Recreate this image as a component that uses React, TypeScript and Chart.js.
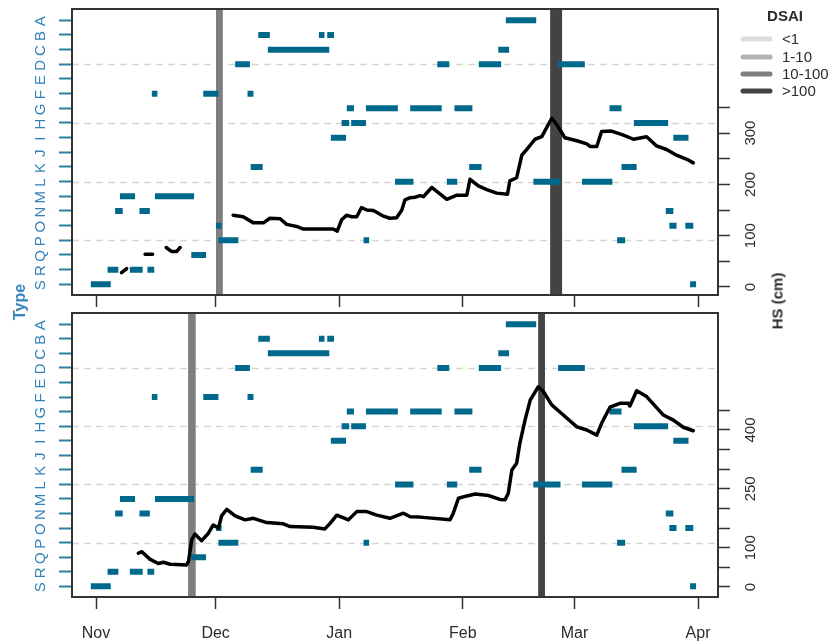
import React, { useEffect, useRef } from 'react';
import { Chart, registerables } from 'chart.js';

Chart.register(...registerables);

// ---------- data ----------
const typeLabels = ['A', 'B', 'C', 'D', 'E', 'F', 'G', 'H', 'I', 'J', 'K', 'L', 'M', 'N', 'O', 'P', 'Q', 'R', 'S'];
const gridRows = ['D', 'H', 'L', 'P'];

// x axis: days since 1 Nov
const monthTickDays = [0, 30, 61, 92, 120, 151];
const monthLabels = ['Nov', 'Dec', 'Jan', 'Feb', 'Mar', 'Apr'];

// observation events (type, start day, end day)
const eventType = [
  'A',
  'B', 'B', 'B',
  'C', 'C',
  'D', 'D', 'D', 'D',
  'F', 'F', 'F',
  'G', 'G', 'G', 'G', 'G',
  'H', 'H', 'H',
  'I', 'I',
  'K', 'K', 'K',
  'L', 'L', 'L', 'L',
  'M', 'M',
  'N', 'N', 'N',
  'O', 'O', 'O',
  'P', 'P', 'P',
  'Q',
  'R', 'R', 'R',
  'S', 'S',
];
const eventStart = [
  102.8,
  40.7, 55.9, 58.0,
  43.1, 100.9,
  34.9, 85.6, 96.0, 115.9,
  14.0, 26.9, 38.0,
  62.9, 67.7, 78.8, 89.9, 128.8,
  61.6, 64.0, 134.9,
  58.9, 144.8,
  38.8, 93.6, 131.8,
  75.0, 88.0, 109.7, 121.9,
  6.0, 14.8,
  4.8, 10.9, 142.9,
  30.1, 143.8, 147.8,
  30.7, 67.1, 130.7,
  23.9,
  2.9, 8.5, 12.9,
  -1.3, 149.0,
];
const eventEnd = [
  110.4,
  43.6, 57.3, 59.7,
  58.5, 103.6,
  38.6, 88.6, 101.6, 122.6,
  15.4, 30.7, 39.5,
  64.7, 75.7, 86.7, 94.4, 131.8,
  63.5, 67.7, 143.5,
  62.7, 148.6,
  41.8, 96.7, 135.6,
  79.6, 90.6, 116.5, 129.5,
  9.8, 24.6,
  6.7, 13.5, 144.8,
  31.5, 145.6, 149.8,
  35.7, 68.5, 132.7,
  27.6,
  5.6, 11.7, 14.6,
  3.7, 150.5,
];

// snow height (cm), top panel
const hsTopDays = [
  6.4, 7.7, 9.0, 12.3, 14.2, 16.0, 17.6, 19.0, 20.2, 21.1, 27.0,
  34.4, 36.9, 39.5, 42.0, 43.6, 46.2, 47.8, 50.3, 52.0, 59.5, 60.5, 61.6, 62.9, 64.1, 65.4,
  66.6, 67.9, 69.6, 72.1, 73.7, 75.4, 76.7, 77.5, 78.8, 80.0, 81.3, 82.1, 84.2, 88.0, 90.5,
  93.0, 93.8, 95.9, 98.0, 100.5, 103.2, 103.8, 105.5, 106.8, 108.0, 110.1, 111.8, 114.3,
  115.6, 117.6, 120.6, 123.1, 123.9, 125.6, 126.8, 129.3, 132.3, 134.8, 138.1, 140.6, 143.1,
  145.6, 148.2, 149.8,
];
const hsTopValues = [
  28, 36, null, 64, 64, null, 77, 69, 69, 77, null,
  140, 137, 125, 125, 134, 133, 122, 118, 113, 113, 109, 131, 140, 137, 137,
  155, 150, 149, 138, 134, 135, 150, 170, 174, 175, 178, 176, 194, 171, 179,
  179, 210, 197, 190, 183, 181, 207, 213, 257, 268, 288, 293, 329,
  316, 291, 285, 279, 274, 274, 303, 304, 296, 288, 293, 275, 268,
  257, 249, 242,
];

// snow height (cm), bottom panel
const hsBottomDays = [
  10.6, 11.5, 13.5, 15.6, 16.9, 18.6, 22.7, 23.2, 24.0, 24.8, 26.5, 28.2, 29.4, 30.7, 31.5,
  32.8, 34.9, 37.4, 39.5, 42.8, 47.0, 48.7, 54.5, 57.4, 58.7, 60.4, 63.3, 65.4, 67.9, 70.4,
  73.7, 77.1, 78.8, 81.3, 88.8, 89.6, 90.9, 93.0, 95.1, 98.4, 101.3, 102.6, 103.4, 104.3,
  105.5, 106.3, 107.6, 108.9, 110.9, 112.2, 114.3, 117.2, 120.6, 123.1, 125.6, 126.8, 128.9,
  131.4, 133.5, 133.9, 135.6, 138.1, 142.3, 144.8, 147.3, 149.8,
];
const hsBottomValues = [
  86, 90, 71, 60, 63, 58, 56, 65, 120, 135, 118, 137, 158, 150, 181,
  198, 181, 171, 175, 164, 161, 154, 152, 148, 162, 183, 171, 192, 192, 183,
  175, 188, 179, 178, 171, 188, 226, 232, 237, 233, 223, 222, 239, 298,
  315, 366, 425, 476, 510, 498, 464, 438, 408, 400, 387, 417, 458,
  468, 468, 461, 500, 485, 438, 425, 407, 398,
];

// avalanche activity (DSAI) bands
const dsaiLevels = ['<1', '1-10', '10-100', '>100'];
const dsaiColors = ['#dddddd', '#b3b3b3', '#7e7e7e', '#434343'];
const dsaiTopStart = [30.1, 113.9];
const dsaiTopEnd = [31.8, 116.9];
const dsaiTopLevel = ['10-100', '>100'];
const dsaiBottomStart = [23.1, 110.9];
const dsaiBottomEnd = [25.0, 112.6];
const dsaiBottomLevel = ['10-100', '>100'];

// HS axis ticks
const hsTopTicks = [0, 50, 100, 150, 200, 250, 300, 350];
const hsTopTickLabels = [0, 100, 200, 300];
const hsBottomTicks = [0, 50, 100, 150, 200, 250, 300, 350, 400, 450];
const hsBottomTickLabels = [0, 100, 250, 400];

// ---------- styling ----------
const FONT = "'Liberation Sans', Arial, sans-serif";
const TEAL_BAR = '#00688b';
const TEAL_TEXT = '#3383b8';
const TEAL_TICK = '#2a7fa8';
const DARK = '#2b2b2b';

const X_MIN = -6.02;
const X_MAX = 156.0;
const ROW_MIN = -0.77;
const ROW_MAX = 18.73;

type PanelProps = {
  height: number;
  padTop: number;
  xAxisHeight: number;
  showXLabels: boolean;
  showLegend: boolean;
  hsDays: number[];
  hsValues: (number | null)[];
  hsMin: number;
  hsMax: number;
  hsTicks: number[];
  hsTickLabels: number[];
  dsaiStart: number[];
  dsaiEnd: number[];
  dsaiLevel: string[];
};

function Panel(p: PanelProps) {
  const ref = useRef<HTMLCanvasElement | null>(null);

  useEffect(() => {
    if (!ref.current) return;
    const hsData = p.hsDays.map((d, i) => ({ x: d, y: p.hsValues[i] }));
    const evData: { x: number; y: number | null }[] = [];
    eventType.forEach((t, i) => {
      const r = typeLabels.indexOf(t);
      evData.push({ x: eventStart[i], y: r });
      evData.push({ x: eventEnd[i], y: r });
      evData.push({ x: eventEnd[i], y: null });
    });

    const panelPlugin = {
      id: 'panelDecor',
      beforeDatasetsDraw(chart: any) {
        const { ctx, chartArea } = chart;
        const xs = chart.scales.x;
        const ys = chart.scales.y;
        ctx.save();
        ctx.strokeStyle = '#d6d6d6';
        ctx.lineWidth = 1.5;
        ctx.setLineDash([7, 5]);
        gridRows.forEach((r) => {
          const y = Math.round(ys.getPixelForValue(typeLabels.indexOf(r))) + 0.5;
          ctx.beginPath();
          ctx.moveTo(chartArea.left, y);
          ctx.lineTo(chartArea.right, y);
          ctx.stroke();
        });
        ctx.setLineDash([]);
        p.dsaiStart.forEach((s, i) => {
          const x1 = xs.getPixelForValue(s);
          const x2 = xs.getPixelForValue(p.dsaiEnd[i]);
          ctx.fillStyle = dsaiColors[dsaiLevels.indexOf(p.dsaiLevel[i])];
          ctx.fillRect(x1, chartArea.top, x2 - x1, chartArea.bottom - chartArea.top);
        });
        ctx.restore();
      },
      afterDatasetsDraw(chart: any) {
        const { ctx, chartArea } = chart;
        const ys = chart.scales.y;
        const hs = chart.scales.hs;
        ctx.save();
        ctx.strokeStyle = '#333333';
        ctx.lineWidth = 2;
        ctx.strokeRect(chartArea.left, chartArea.top, chartArea.right - chartArea.left, chartArea.bottom - chartArea.top);
        ctx.fillStyle = TEAL_TEXT;
        ctx.font = `15px ${FONT}`;
        ctx.textAlign = 'center';
        ctx.textBaseline = 'middle';
        typeLabels.forEach((lab, i) => {
          const y = ys.getPixelForValue(i);
          ctx.save();
          ctx.translate(41, y + 1);
          ctx.rotate(-Math.PI / 2);
          ctx.fillText(lab, 0, 0);
          ctx.restore();
        });
        ctx.fillStyle = DARK;
        ctx.font = `15px ${FONT}`;
        p.hsTickLabels.forEach((v) => {
          const y = hs.getPixelForValue(v);
          ctx.save();
          ctx.translate(751, y);
          ctx.rotate(-Math.PI / 2);
          ctx.fillText(String(v), 0, 0);
          ctx.restore();
        });
        ctx.restore();
      },
      afterDraw(chart: any) {
        if (!p.showLegend) return;
        const { ctx } = chart;
        ctx.save();
        ctx.fillStyle = DARK;
        ctx.font = `bold 15px ${FONT}`;
        ctx.textAlign = 'center';
        ctx.textBaseline = 'middle';
        ctx.fillText('DSAI', 785, 17);
        ctx.font = `15px ${FONT}`;
        ctx.textAlign = 'left';
        const ys = [39, 57, 74, 91];
        dsaiLevels.forEach((lev, i) => {
          ctx.strokeStyle = dsaiColors[i];
          ctx.lineWidth = 5;
          ctx.lineCap = 'round';
          ctx.beginPath();
          ctx.moveTo(743, ys[i]);
          ctx.lineTo(770, ys[i]);
          ctx.stroke();
          ctx.fillStyle = DARK;
          ctx.fillText(lev, 782, ys[i] + 1);
        });
        ctx.restore();
      },
    };

    const chart = new Chart(ref.current, {
      type: 'line',
      data: {
        datasets: [
          {
            label: 'HS',
            data: hsData as any,
            xAxisID: 'x',
            yAxisID: 'hs',
            borderColor: '#000000',
            borderWidth: 3.5,
            pointRadius: 0,
            tension: 0,
            spanGaps: false,
            borderJoinStyle: 'round',
            borderCapStyle: 'round',
          },
          {
            label: 'events',
            data: evData as any,
            xAxisID: 'x',
            yAxisID: 'y',
            borderColor: TEAL_BAR,
            borderWidth: 6,
            pointRadius: 0,
            tension: 0,
            spanGaps: false,
            borderCapStyle: 'butt',
          },
        ],
      },
      options: {
        animation: false,
        responsive: false,
        maintainAspectRatio: false,
        events: [],
        layout: { padding: { top: p.padTop, left: 0, right: 0, bottom: 0 } },
        plugins: { legend: { display: false }, tooltip: { enabled: false } },
        scales: {
          x: {
            type: 'linear',
            position: 'bottom',
            min: X_MIN,
            max: X_MAX,
            afterBuildTicks: (s: any) => {
              s.ticks = monthTickDays.map((v) => ({ value: v }));
            },
            afterFit: (s: any) => {
              s.height = p.xAxisHeight;
            },
            ticks: {
              display: p.showXLabels,
              autoSkip: false,
              maxRotation: 0,
              minRotation: 0,
              padding: 15,
              color: DARK,
              font: { family: FONT, size: 16 },
              callback: (v: any) => monthLabels[monthTickDays.indexOf(Number(v))] ?? '',
            },
            grid: { drawOnChartArea: false, drawTicks: true, tickLength: 12, tickColor: '#333333', tickWidth: 1.5 },
            border: { display: false },
          },
          y: {
            type: 'linear',
            position: 'left',
            reverse: true,
            min: ROW_MIN,
            max: ROW_MAX,
            afterBuildTicks: (s: any) => {
              s.ticks = typeLabels.map((_, i) => ({ value: i }));
            },
            afterFit: (s: any) => {
              s.width = 72;
            },
            ticks: { display: false },
            grid: { drawOnChartArea: false, drawTicks: true, tickLength: 13, tickColor: TEAL_TICK, tickWidth: 2 },
            border: { display: false },
          },
          hs: {
            type: 'linear',
            position: 'right',
            min: p.hsMin,
            max: p.hsMax,
            afterBuildTicks: (s: any) => {
              s.ticks = p.hsTicks.map((v) => ({ value: v }));
            },
            afterFit: (s: any) => {
              s.width = 115;
            },
            ticks: { display: false },
            grid: { drawOnChartArea: false, drawTicks: true, tickLength: 12, tickColor: '#333333', tickWidth: 1.5 },
            border: { display: false },
          },
        },
      } as any,
      plugins: [panelPlugin],
    });
    return () => chart.destroy();
  }, []);

  return (
    <canvas
      ref={ref}
      width={833}
      height={p.height}
      style={{ display: 'block', width: 833, height: p.height }}
    />
  );
}

export default function App() {
  return (
    <div style={{ position: 'fixed', left: 0, top: 0, width: 833, height: 644, background: '#ffffff', overflow: 'hidden' }}>
      <Panel
        height={310}
        padTop={9}
        xAxisHeight={15}
        showXLabels={false}
        showLegend={true}
        hsDays={hsTopDays}
        hsValues={hsTopValues}
        hsMin={-15.6}
        hsMax={541.9}
        hsTicks={hsTopTicks}
        hsTickLabels={hsTopTickLabels}
        dsaiStart={dsaiTopStart}
        dsaiEnd={dsaiTopEnd}
        dsaiLevel={dsaiTopLevel}
      />
      <Panel
        height={334}
        padTop={3}
        xAxisHeight={47}
        showXLabels={true}
        showLegend={false}
        hsDays={hsBottomDays}
        hsValues={hsBottomValues}
        hsMin={-25.5}
        hsMax={698}
        hsTicks={hsBottomTicks}
        hsTickLabels={hsBottomTickLabels}
        dsaiStart={dsaiBottomStart}
        dsaiEnd={dsaiBottomEnd}
        dsaiLevel={dsaiBottomLevel}
      />
      <div
        style={{
          position: 'absolute',
          left: 20,
          top: 302,
          transform: 'translate(-50%, -50%) rotate(-90deg)',
          font: `bold 16px ${FONT}`,
          color: TEAL_TEXT,
          whiteSpace: 'nowrap',
        }}
      >
        Type
      </div>
      <div
        style={{
          position: 'absolute',
          left: 777,
          top: 301,
          transform: 'translate(-50%, -50%) rotate(-90deg)',
          font: `bold 15px ${FONT}`,
          color: DARK,
          whiteSpace: 'nowrap',
        }}
      >
        HS (cm)
      </div>
    </div>
  );
}
